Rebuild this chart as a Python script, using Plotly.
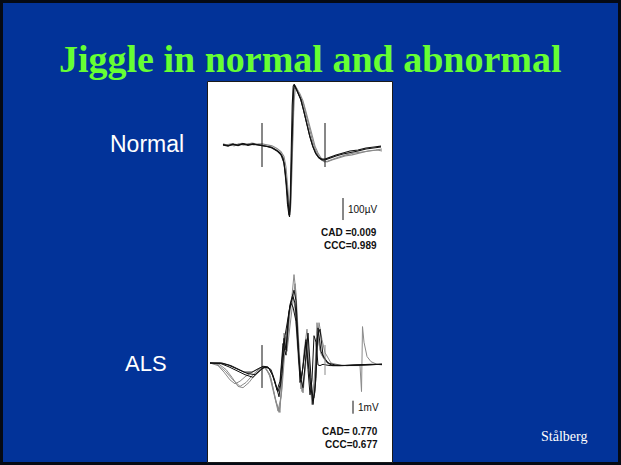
import plotly.graph_objects as go

W, H = 621, 465

# ---------------- data ----------------
title_text = "Jiggle in normal and abnormal"
label_normal = "Normal"
label_als = "ALS"
credit = "Stålberg"

# Normal MUP: time (ms) and amplitude (µV), four superimposed discharges
normal_a_t = [1.6, 2.1, 2.6, 3.1, 3.6, 4.1, 4.6, 5.1, 5.5, 5.9, 6.4, 6.9, 7.3, 7.6, 7.8, 8.0, 8.15, 8.25, 8.35, 8.5, 8.65, 8.75, 8.9, 9.1, 9.4, 9.7, 10.0, 10.3, 10.6, 10.9, 11.2, 11.5, 11.8, 12.3, 12.9, 13.6, 14.3, 15.1, 15.9, 16.7, 17.4]
normal_a_v = [0, -5, 4, -3, 5, -2, 4, 0, -5, -5, -9, -23, -36, -59, -114, -205, -305, -327, -250, 23, 250, 273, 259, 236, 205, 150, 91, 36, -9, -41, -59, -68, -68, -59, -50, -41, -36, -27, -18, -14, -9]
normal_b_t = [1.6, 2.0, 2.5, 3.0, 3.5, 4.0, 4.5, 5.0, 5.5, 6.0, 6.5, 7.0, 7.4, 7.7, 7.9, 8.05, 8.2, 8.3, 8.4, 8.55, 8.7, 8.85, 9.0, 9.3, 9.6, 9.9, 10.2, 10.5, 10.8, 11.1, 11.4, 11.7, 12.0, 12.5, 13.1, 13.8, 14.5, 15.3, 16.1, 16.9, 17.5]
normal_b_v = [5, 0, 7, 2, 8, 3, 9, 4, 5, 2, -4, -16, -30, -52, -100, -180, -280, -318, -260, -20, 200, 262, 255, 232, 200, 150, 95, 40, -5, -36, -59, -73, -77, -68, -59, -50, -45, -36, -27, -23, -18]
normal_c_t = [1.6, 2.2, 2.7, 3.2, 3.7, 4.2, 4.7, 5.2, 5.6, 6.1, 6.6, 7.1, 7.5, 7.75, 7.95, 8.1, 8.22, 8.32, 8.45, 8.6, 8.72, 8.85, 9.05, 9.35, 9.65, 9.95, 10.25, 10.55, 10.85, 11.15, 11.45, 11.75, 12.1, 12.6, 13.2, 13.9, 14.7, 15.5, 16.3, 17.0, 17.5]
normal_c_v = [-2, 3, -4, 5, -1, 6, 0, 3, -2, -7, -14, -27, -45, -80, -160, -250, -318, -300, -120, 120, 255, 268, 248, 222, 185, 130, 70, 18, -23, -50, -68, -77, -73, -64, -55, -45, -36, -32, -27, -23, -27]
normal_d_t = [1.6, 2.1, 2.6, 3.1, 3.6, 4.1, 4.6, 5.1, 5.5, 6.0, 6.5, 7.0, 7.4, 7.7, 7.9, 8.05, 8.2, 8.3, 8.4, 8.52, 8.62, 8.72, 8.85, 9.05, 9.35, 9.65, 9.95, 10.25, 10.55, 10.85, 11.15, 11.45, 11.8, 12.3, 12.9, 13.6, 14.3, 15.1, 15.9, 16.7, 17.4]
normal_d_v = [2, -3, 3, 0, 6, 1, 5, -1, -3, -7, -14, -27, -45, -82, -170, -270, -320, -290, -60, 180, 268, 276, 262, 240, 210, 160, 100, 45, -2, -36, -55, -64, -64, -55, -45, -36, -27, -23, -14, -9, -5]

normal_markers_t = [5.5, 11.8]
normal_marker_v = [100, -100]
normal_scale_t = 13.6
normal_scale_v = [-241, -341]
normal_scale_label = "100µV"
normal_stats = ["CAD =0.009", "CCC=0.989"]

# ALS MUP: time (ms) and amplitude (mV), six superimposed discharges
als_1_t = [0.3, 1.3, 2.1, 2.9, 3.7, 4.5, 5.1, 5.6, 6.1, 6.5, 6.9, 7.1, 7.3, 7.5, 7.7, 7.9, 8.1, 8.3, 8.5, 8.7, 8.9, 9.1, 9.3, 9.5, 9.7, 9.9, 10.1, 10.3, 10.5, 10.7, 10.9, 11.1, 11.3, 11.6, 11.9, 12.3, 13.3, 14.3, 15.3, 16.3, 17.5]
als_1_v = [0, 0, -0.15, -0.45, -0.7, -0.7, -0.45, -0.25, -0.3, -0.85, -1.75, -2.2, -1.7, 0.25, 1.9, 1.0, 3.3, 4.5, 5.0, 5.6, 4.8, 1.4, -1.5, -0.9, 0.6, 1.8, -0.5, -2.45, -1.3, 2.1, 1.6, -0.15, -0.2, -0.1, -0.15, -0.2, -0.2, -0.15, -0.15, -0.1, -0.1]
als_2_t = [0.3, 1.0, 1.8, 2.6, 3.3, 3.9, 4.6, 5.3, 5.8, 6.3, 6.8, 7.2, 7.5, 7.7, 7.9, 8.2, 8.5, 8.7, 8.9, 9.2, 9.5, 9.8, 10.0, 10.2, 10.5, 10.8, 11.0, 11.2, 11.4, 11.7, 12.2, 13.0, 14.0, 15.3, 15.45, 15.55, 15.7, 16.0, 16.4, 17.0, 17.5]
als_2_v = [0, -0.1, -0.6, -1.3, -1.8, -1.5, -0.9, -0.4, -0.3, -0.9, -2.6, -3.8, -2.0, 0.5, 2.1, 3.6, 5.2, 6.8, 5.4, 1.2, -2.2, -0.4, 1.9, -0.6, -3.2, -0.5, 3.1, 1.5, 0.7, 0.3, -0.1, -0.2, -0.2, -0.2, -2.2, 2.8, 1.6, 0.5, 0.1, -0.1, -0.15]
als_3_t = [0.3, 1.2, 1.9, 2.5, 3.1, 3.6, 4.2, 4.8, 5.4, 5.8, 6.4, 6.9, 7.3, 7.5, 7.7, 8.0, 8.3, 8.6, 8.8, 9.1, 9.4, 9.7, 10.0, 10.3, 10.6, 10.8, 11.0, 11.3, 11.6, 12.0, 12.6, 13.5, 15.0, 16.5, 17.5]
als_3_v = [0, -0.1, -0.5, -1.1, -1.8, -1.9, -1.5, -0.9, -0.4, -0.3, -1.2, -3.0, -3.8, -1.2, 2.3, 1.2, 4.0, 5.3, 4.2, 0.6, -2.0, 0.9, 2.6, -0.9, -3.1, -1.0, 2.4, 1.0, 0.5, 0.0, -0.2, -0.2, -0.15, -0.1, -0.1]
als_4_t = [0.3, 1.4, 2.2, 3.0, 3.8, 4.6, 5.2, 5.7, 6.2, 6.6, 7.0, 7.3, 7.6, 7.9, 8.2, 8.4, 8.6, 8.9, 9.2, 9.4, 9.6, 9.9, 10.2, 10.4, 10.6, 10.9, 11.1, 11.4, 11.7, 12.1, 12.8, 14.0, 15.5, 17.5]
als_4_v = [0, -0.05, -0.3, -0.6, -0.9, -1.1, -0.7, -0.3, -0.4, -1.0, -2.1, -1.4, 1.5, 0.6, 3.9, 4.6, 4.3, 3.2, 0.2, -1.2, -0.3, 1.6, -0.6, -2.0, -3.2, -1.2, 2.7, 0.9, 0.4, 0.0, -0.15, -0.2, -0.15, -0.1]
als_5_t = [0.3, 1.1, 1.7, 2.3, 2.8, 3.3, 3.9, 4.5, 5.2, 5.7, 6.2, 6.7, 7.1, 7.4, 7.6, 7.8, 8.0, 8.3, 8.6, 8.8, 9.0, 9.3, 9.6, 9.9, 10.1, 10.4, 10.7, 10.9, 11.2, 11.5, 11.8, 12.4, 13.5, 15.0, 17.5]
als_5_v = [0, -0.2, -0.7, -1.3, -1.6, -1.4, -1.0, -0.7, -0.4, -0.3, -0.8, -2.4, -3.7, -2.6, 0.2, 2.0, 0.9, 2.8, 4.9, 6.1, 3.5, -0.3, -2.3, 0.4, 1.7, -1.9, -2.7, 0.2, 3.1, 1.8, 0.8, 0.0, -0.2, -0.15, -0.1]
als_6_t = [0.3, 1.5, 2.4, 3.2, 4.0, 4.8, 5.4, 5.9, 6.4, 6.8, 7.2, 7.5, 7.8, 8.0, 8.3, 8.6, 8.8, 9.0, 9.3, 9.6, 9.9, 10.1, 10.4, 10.6, 10.8, 11.0, 11.3, 11.6, 12.0, 12.5, 13.5, 15.0, 17.5]
als_6_v = [0, 0, -0.2, -0.5, -0.8, -0.9, -0.5, -0.3, -0.5, -1.4, -2.6, -0.8, 2.1, 3.0, 4.4, 5.1, 4.6, 2.8, -0.9, -1.9, 0.8, 2.3, -1.1, -2.9, -2.2, 1.9, 2.6, 0.6, 0.1, -0.2, -0.2, -0.15, -0.1]

als_markers_t = [5.5, 11.8]
als_marker_v = [[1.38, -1.92], [1.38, -0.92]]
als_scale_t = 14.6
als_scale_v = [-2.9, -3.9]
als_scale_label = "1mV"
als_stats = ["CAD= 0.770", "CCC=0.677"]

# ---------------- styling / layout helpers ----------------
BLUE = "#023399"
GREEN = "#66ff33"
BLACK = "#111111"
GRAY = "#8a8a8a"
NARROW = "Liberation Sans Narrow, Liberation Sans, Arial"

def fx(px):
    return px / W

def fy(py):
    return 1 - py / H

fig = go.Figure()

def add_line(t, v, color, width, xa, ya):
    fig.add_trace(go.Scatter(x=t, y=v, mode="lines", xaxis=xa, yaxis=ya,
                             line=dict(color=color, width=width),
                             hoverinfo="skip", showlegend=False))

# normal traces
for (t, v, c) in [(normal_b_t, normal_b_v, GRAY), (normal_c_t, normal_c_v, GRAY),
                  (normal_a_t, normal_a_v, BLACK), (normal_d_t, normal_d_v, BLACK)]:
    add_line(t, v, c, 1.1, "x", "y")
for mt in normal_markers_t:
    add_line([mt, mt], normal_marker_v, BLACK, 1, "x", "y")
add_line([normal_scale_t, normal_scale_t], normal_scale_v, BLACK, 1, "x", "y")

# ALS traces
for (t, v, c) in [(als_2_t, als_2_v, GRAY), (als_3_t, als_3_v, GRAY), (als_5_t, als_5_v, GRAY),
                  (als_1_t, als_1_v, BLACK), (als_4_t, als_4_v, BLACK), (als_6_t, als_6_v, BLACK)]:
    add_line(t, v, c, 1.0, "x2", "y2")
for mt, mv in zip(als_markers_t, als_marker_v):
    add_line([mt, mt], mv, BLACK if mt < 10 else GRAY, 1, "x2", "y2")
add_line([als_scale_t, als_scale_t], als_scale_v, BLACK, 1, "x2", "y2")

# panel geometry (pixels)
PX0, PX1 = 207, 393
x_dom = [fx(PX0), fx(PX1)]
x_rng = [0, (PX1 - PX0) / 10.0]          # 10 px per ms
# normal: baseline at py=145, 22 px per 100 µV
n_top, n_bot = 82, 262
y_dom_n = [fy(n_bot), fy(n_top)]
y_rng_n = [(145 - n_bot) * 100 / 22, (145 - n_top) * 100 / 22]
# ALS: baseline at py=363, 13 px per mV
a_top, a_bot = 262, 462
y_dom_a = [fy(a_bot), fy(a_top)]
y_rng_a = [(363 - a_bot) / 13, (363 - a_top) / 13]

hidden = dict(visible=False, showgrid=False, zeroline=False, fixedrange=True)

shapes = [
    dict(type="rect", xref="paper", yref="paper", x0=0, x1=1, y0=0, y1=1,
         fillcolor="#050a14", line=dict(width=0), layer="below"),
    dict(type="rect", xref="paper", yref="paper", x0=fx(3), x1=fx(618), y0=fy(462), y1=fy(3),
         fillcolor=BLUE, line=dict(width=0), layer="below"),
    dict(type="rect", xref="paper", yref="paper", x0=fx(207.5), x1=fx(392.5), y0=fy(462.5), y1=fy(81.5),
         fillcolor="white", line=dict(color="#1a1a1a", width=1), layer="below"),
]

annotations = [
    dict(text="<b>" + title_text + "</b>", x=fx(310), y=fy(59), xref="paper", yref="paper",
         showarrow=False, xanchor="center", yanchor="middle",
         font=dict(family="Liberation Serif", size=38, color=GREEN)),
    dict(text=label_normal, x=fx(146.5), y=fy(144), xref="paper", yref="paper",
         showarrow=False, xanchor="center", yanchor="middle",
         font=dict(family="Liberation Sans", size=23, color="white")),
    dict(text=label_als, x=fx(146), y=fy(363), xref="paper", yref="paper",
         showarrow=False, xanchor="center", yanchor="middle",
         font=dict(family="Liberation Sans", size=22, color="white")),
    dict(text=credit, x=fx(564), y=fy(436), xref="paper", yref="paper",
         showarrow=False, xanchor="center", yanchor="middle",
         font=dict(family="Liberation Serif", size=14, color="white")),
    dict(text=normal_scale_label, x=normal_scale_t + 0.25, y=sum(normal_scale_v) / 2,
         xref="x", yref="y", showarrow=False, xanchor="left", yanchor="middle",
         font=dict(family="Liberation Sans", size=10, color=BLACK)),
    dict(text=als_scale_label, x=als_scale_t + 0.25, y=sum(als_scale_v) / 2,
         xref="x2", yref="y2", showarrow=False, xanchor="left", yanchor="middle",
         font=dict(family="Liberation Sans", size=10, color=BLACK)),
]
for i, s in enumerate(normal_stats):
    annotations.append(dict(text="<b>" + s + "</b>", x=fx(379), y=fy(232 + 13 * i),
                            xref="paper", yref="paper", showarrow=False,
                            xanchor="right", yanchor="middle",
                            font=dict(family=NARROW, size=10, color=BLACK)))
for i, s in enumerate(als_stats):
    annotations.append(dict(text="<b>" + s + "</b>", x=fx(380), y=fy(431 + 13 * i),
                            xref="paper", yref="paper", showarrow=False,
                            xanchor="right", yanchor="middle",
                            font=dict(family=NARROW, size=10, color=BLACK)))

fig.update_layout(
    width=W, height=H, margin=dict(l=0, r=0, t=0, b=0),
    paper_bgcolor=BLUE, plot_bgcolor="rgba(0,0,0,0)",
    showlegend=False,
    xaxis=dict(domain=x_dom, range=x_rng, anchor="y", **hidden),
    yaxis=dict(domain=y_dom_n, range=y_rng_n, anchor="x", **hidden),
    xaxis2=dict(domain=x_dom, range=x_rng, anchor="y2", **hidden),
    yaxis2=dict(domain=y_dom_a, range=y_rng_a, anchor="x2", **hidden),
    shapes=shapes, annotations=annotations,
)

fig.write_html("out.html", config=dict(displayModeBar=False))
